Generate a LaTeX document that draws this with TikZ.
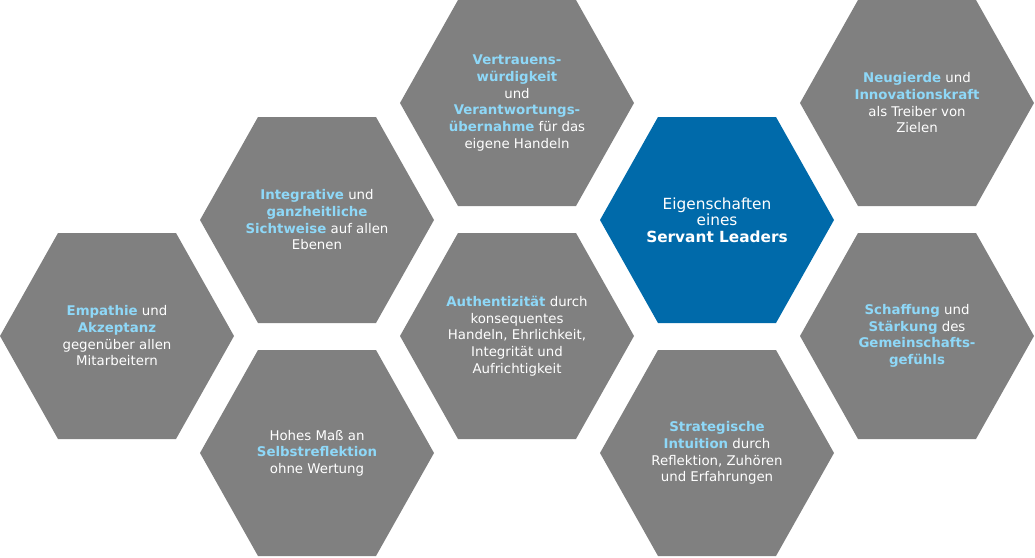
\documentclass[tikz,border=0pt]{standalone}
\usepackage{fontspec}
\setmainfont{DejaVu Sans}
\definecolor{hexgray}{RGB}{128,128,128}
\definecolor{hexblue}{RGB}{0,106,170}
\definecolor{lb}{RGB}{142,216,248}
\newcommand{\hl}[1]{\textbf{\textcolor{lb}{#1}}}
\tikzset{
  hexfill/.style={fill=hexgray},
  hextext/.style={text=white,align=center,font=\fontsize{10}{12.5}\selectfont}
}
\newcommand{\hexat}[4]{%
  \fill[#4] (#1-117,#2) -- (#1-59,#2-103) -- (#1+59,#2-103) -- (#1+117,#2) -- (#1+59,#2+103) -- (#1-59,#2+103) -- cycle;
  \node[hextext] (#3) at (#1,#2)}
\begin{document}
\begin{tikzpicture}[x=0.75pt,y=-0.75pt]
\useasboundingbox (0,0) rectangle (1035,557);
\hexat{117}{336}{emp}{hexfill}{\hl{Empathie} und\\\hl{Akzeptanz}\\gegenüber allen\\Mitarbeitern};
\hexat{317}{220}{int}{hexfill}{\hl{Integrative} und\\\hl{ganzheitliche}\\\hl{Sichtweise} auf allen\\Ebenen};
\hexat{317}{453}{hoh}{hexfill}{Hohes Maß an\\\hl{Selbstreflektion}\\ohne Wertung};
\hexat{517}{103}{ver}{hexfill}{\hl{Vertrauens-}\\\hl{würdigkeit}\\und\\\hl{Verantwortungs-}\\\hl{übernahme} für das\\eigene Handeln};
\hexat{517}{336}{aut}{hexfill}{\hl{Authentizität} durch\\konsequentes\\Handeln, Ehrlichkeit,\\Integrität und\\Aufrichtigkeit};
\hexat{717}{220}{eig}{fill=hexblue}{\fontsize{11.5}{14}\selectfont Eigenschaften\\\fontsize{11.5}{14}\selectfont eines\\\fontsize{11.5}{14}\selectfont\textbf{Servant Leaders}};
\hexat{717}{453}{str}{hexfill}{\hl{Strategische}\\\hl{Intuition} durch\\Reflektion, Zuhören\\und Erfahrungen};
\hexat{917}{103}{neu}{hexfill}{\hl{Neugierde} und\\\hl{Innovationskraft}\\als Treiber von\\Zielen};
\hexat{917}{336}{sch}{hexfill}{\hl{Schaffung} und\\\hl{Stärkung} des\\\hl{Gemeinschafts-}\\\hl{gefühls}};
\end{tikzpicture}
\end{document}
